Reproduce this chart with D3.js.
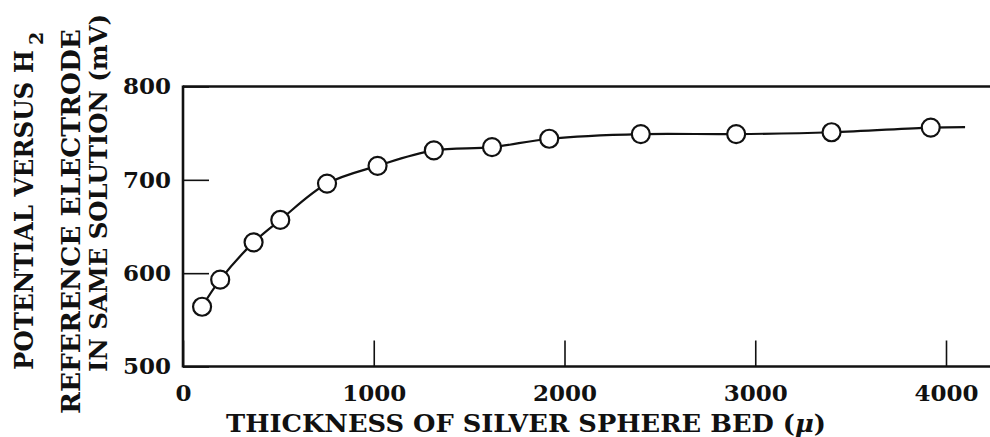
<!DOCTYPE html>
<html>
<head>
<meta charset="utf-8">
<script src="https://cdn.jsdelivr.net/npm/d3@7"></script>
<style>
  html, body { margin: 0; padding: 0; background: #fff; }
  svg { display: block; }
  text { font-family: "DejaVu Serif", serif; font-weight: bold; fill: #111; }
</style>
</head>
<body>
<svg id="chart" width="990" height="437"></svg>
<script>
// Measured electrode potential against bed thickness
const thickness = [100, 195, 370, 510, 755, 1020, 1315, 1620, 1920, 2400, 2900, 3400, 3920];
const potential = [564, 593, 633, 657, 696, 715, 731.5, 735, 744, 749, 749, 751, 756];
// end of the smoothed curve, beyond the last measured point
const curveTailX = [4100];
const curveTailY = [756.5];

const xTicks = [0, 1000, 2000, 3000, 4000];
const yTicks = [500, 600, 700, 800];
const xTitle = "THICKNESS OF SILVER SPHERE BED (";
const xTitleUnit = "\u03bc";
const xTitleEnd = ")";
const yTitleLines = ["POTENTIAL VERSUS H", "REFERENCE ELECTRODE", "IN SAME SOLUTION (mV)"];
const yTitleSub = "2";

const svg = d3.select("#chart");
const plotLeft = 183, plotRight = 990, plotTop = 86.5, plotBottom = 366.5;

const x = d3.scaleLinear().domain([0, 4000]).range([plotLeft, 946]);
const y = d3.scaleLinear().domain([500, 800]).range([plotBottom, plotTop]);

// frame: left, top and bottom rules
const frame = svg.append("g").attr("stroke", "#111").attr("stroke-width", 2.6).attr("fill", "none");
frame.append("line").attr("x1", plotLeft).attr("x2", plotLeft).attr("y1", y(800) - 1).attr("y2", y(500) + 1);
frame.append("line").attr("x1", plotLeft).attr("x2", plotRight).attr("y1", y(800)).attr("y2", y(800));
frame.append("line").attr("x1", plotLeft).attr("x2", plotRight).attr("y1", y(500)).attr("y2", y(500));

// x axis: inward ticks, labels below
const xAxis = svg.append("g")
  .attr("transform", `translate(0,${plotBottom})`)
  .call(d3.axisBottom(x).tickValues(xTicks).tickFormat(d3.format("d"))
    .tickSizeInner(-26).tickSizeOuter(0).tickPadding(18));
xAxis.select(".domain").remove();
xAxis.selectAll(".tick line").attr("stroke", "#111").attr("stroke-width", 1.6);
xAxis.selectAll(".tick text").attr("font-size", 23).attr("font-family", "DejaVu Serif").attr("fill", "#111");

// y axis: inward ticks, labels to the left
const yAxis = svg.append("g")
  .attr("transform", `translate(${plotLeft},0)`)
  .call(d3.axisLeft(y).tickValues(yTicks).tickFormat(d3.format("d"))
    .tickSizeInner(-26).tickSizeOuter(0).tickPadding(12));
yAxis.select(".domain").remove();
yAxis.selectAll(".tick line").attr("stroke", "#111").attr("stroke-width", 1.6);
yAxis.selectAll(".tick text").attr("font-size", 23).attr("font-family", "DejaVu Serif").attr("fill", "#111");

// x title, with the unit in italics
const xt = svg.append("text")
  .attr("x", 226).attr("y", 432)
  .attr("font-size", 25)
  .attr("textLength", 600).attr("lengthAdjust", "spacingAndGlyphs");
xt.append("tspan").text(xTitle);
xt.append("tspan").attr("font-style", "italic").text(xTitleUnit);
xt.append("tspan").text(xTitleEnd);

// y title, three rotated lines
const yTitleSpec = [
  { base: 33, start: 370, len: 320, size: 25.5 },
  { base: 80, start: 414, len: 385, size: 25.5 },
  { base: 107, start: 372, len: 358, size: 24.5 }
];
yTitleLines.forEach((line, i) => {
  const s = yTitleSpec[i];
  const g = svg.append("g").attr("transform", `translate(${s.base},${s.start}) rotate(-90)`);
  g.append("text")
    .attr("x", 0).attr("y", 0)
    .attr("font-size", s.size)
    .attr("textLength", s.len).attr("lengthAdjust", "spacingAndGlyphs")
    .text(line);
  if (i === 0) {
    g.append("text")
      .attr("x", s.len + 5).attr("y", 10)
      .attr("font-size", 19)
      .text(yTitleSub);
  }
});

// smoothed curve through the measurements
const curvePts = thickness.map((t, i) => [t, potential[i]])
  .concat(curveTailX.map((t, i) => [t, curveTailY[i]]));
svg.append("path")
  .datum(curvePts)
  .attr("fill", "none").attr("stroke", "#111").attr("stroke-width", 2.2)
  .attr("d", d3.line().x(d => x(d[0])).y(d => y(d[1])).curve(d3.curveCatmullRom.alpha(0.5)));

// open circle markers
svg.append("g").selectAll("circle")
  .data(thickness.map((t, i) => [t, potential[i]]))
  .join("circle")
  .attr("cx", d => x(d[0])).attr("cy", d => y(d[1]))
  .attr("r", 9)
  .attr("fill", "#fff").attr("stroke", "#111").attr("stroke-width", 2.2);
</script>
</body>
</html>
